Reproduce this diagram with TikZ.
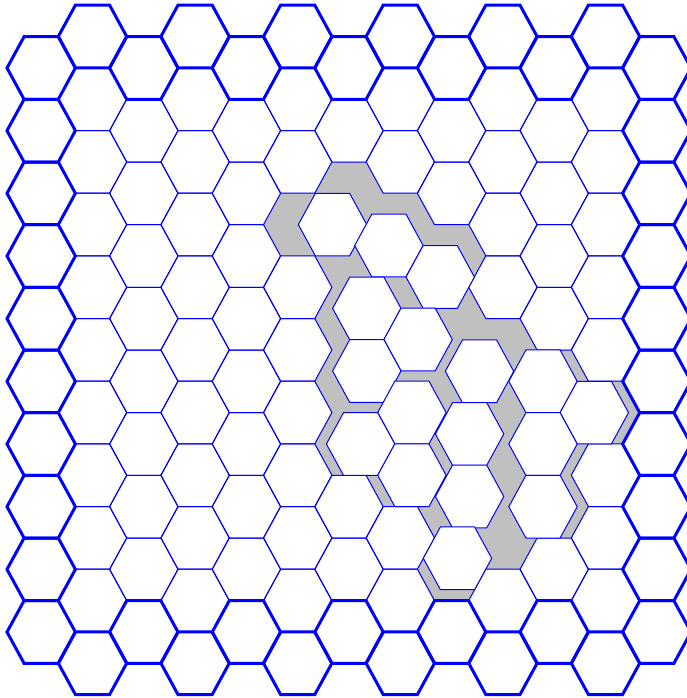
\documentclass[tikz,border=0pt]{standalone}
\definecolor{clustergray}{RGB}{192,192,192}
\definecolor{hexblue}{RGB}{0,0,255}
\tikzset{
  hexa/.pic={\path[pic actions] (-34.2,0) -- (-17.1,-31.33) -- (17.1,-31.33) -- (34.2,0) -- (17.1,31.33) -- (-17.1,31.33) -- cycle;},
  thincell/.style={draw=hexblue, line width=1pt},
  thickcell/.style={draw=hexblue, line width=3pt, line join=miter},
  graycell/.style={fill=clustergray, draw=clustergray, line width=0.6pt},
  movedcell/.style={draw=hexblue, line width=1pt, fill=white},
}
\newcommand\forallcells[1]{%
  \foreach \k in {0,...,12}{%
    \pgfmathtruncatemacro\odd{mod(\k,2)}%
    \ifnum\odd=1 \def\jmax{10}\def\yoff{36.5}\else \def\jmax{9}\def\yoff{68}\fi
    \foreach \j in {0,...,\jmax}{%
      \pgfmathsetmacro\cx{41.2+51.3*\k}%
      \pgfmathsetmacro\cy{\yoff+62.67*\j}%
      \pgfmathtruncatemacro\isb{(\k==0)||(\k==12)||(\j==0)||(\j==\jmax)}%
      #1%
    }%
  }%
}
\begin{document}
\begin{tikzpicture}[x=1pt,y=-1pt]
\useasboundingbox (0,0) rectangle (687,698);
\clip (0,0) rectangle (687,698);
\fill[white] (0,0) rectangle (687,698);
% cluster cells (original positions)
\foreach \a/\b in {5/3,6/2,6/3,6/4,6/5,6/6,7/3,7/4,7/5,7/6,7/7,8/3,8/4,8/5,8/6,8/7,8/8,9/5,9/6,9/7,9/8,10/5,10/6,10/7,11/6}{%
  \expandafter\gdef\csname cl-\a-\b\endcsname{1}%
}
% gray area
\forallcells{\ifcsname cl-\k-\j\endcsname \pic[graycell] at (\cx,\cy) {hexa};\fi}
% thin grid
\forallcells{\ifcsname cl-\k-\j\endcsname\else \pic[thincell] at (\cx,\cy) {hexa};\fi}
% displaced cells
\foreach \px/\py in {332.5/224.6, 388.9/245.5, 440.2/277, 366.8/308.4, 418.1/339.5, 366.8/371,
  479.5/371.3, 411.9/412.5, 360.6/444, 469.6/434, 411.9/475.2, 469.6/496.5,
  543/381.3, 594.3/412.6, 543/444, 543/506.7, 457.5/558.3}{%
  \pic[movedcell] at (\px,\py) {hexa};
}
% thick border ring
\forallcells{\ifnum\isb=1 \pic[thickcell] at (\cx,\cy) {hexa};\fi}
\end{tikzpicture}
\end{document}
